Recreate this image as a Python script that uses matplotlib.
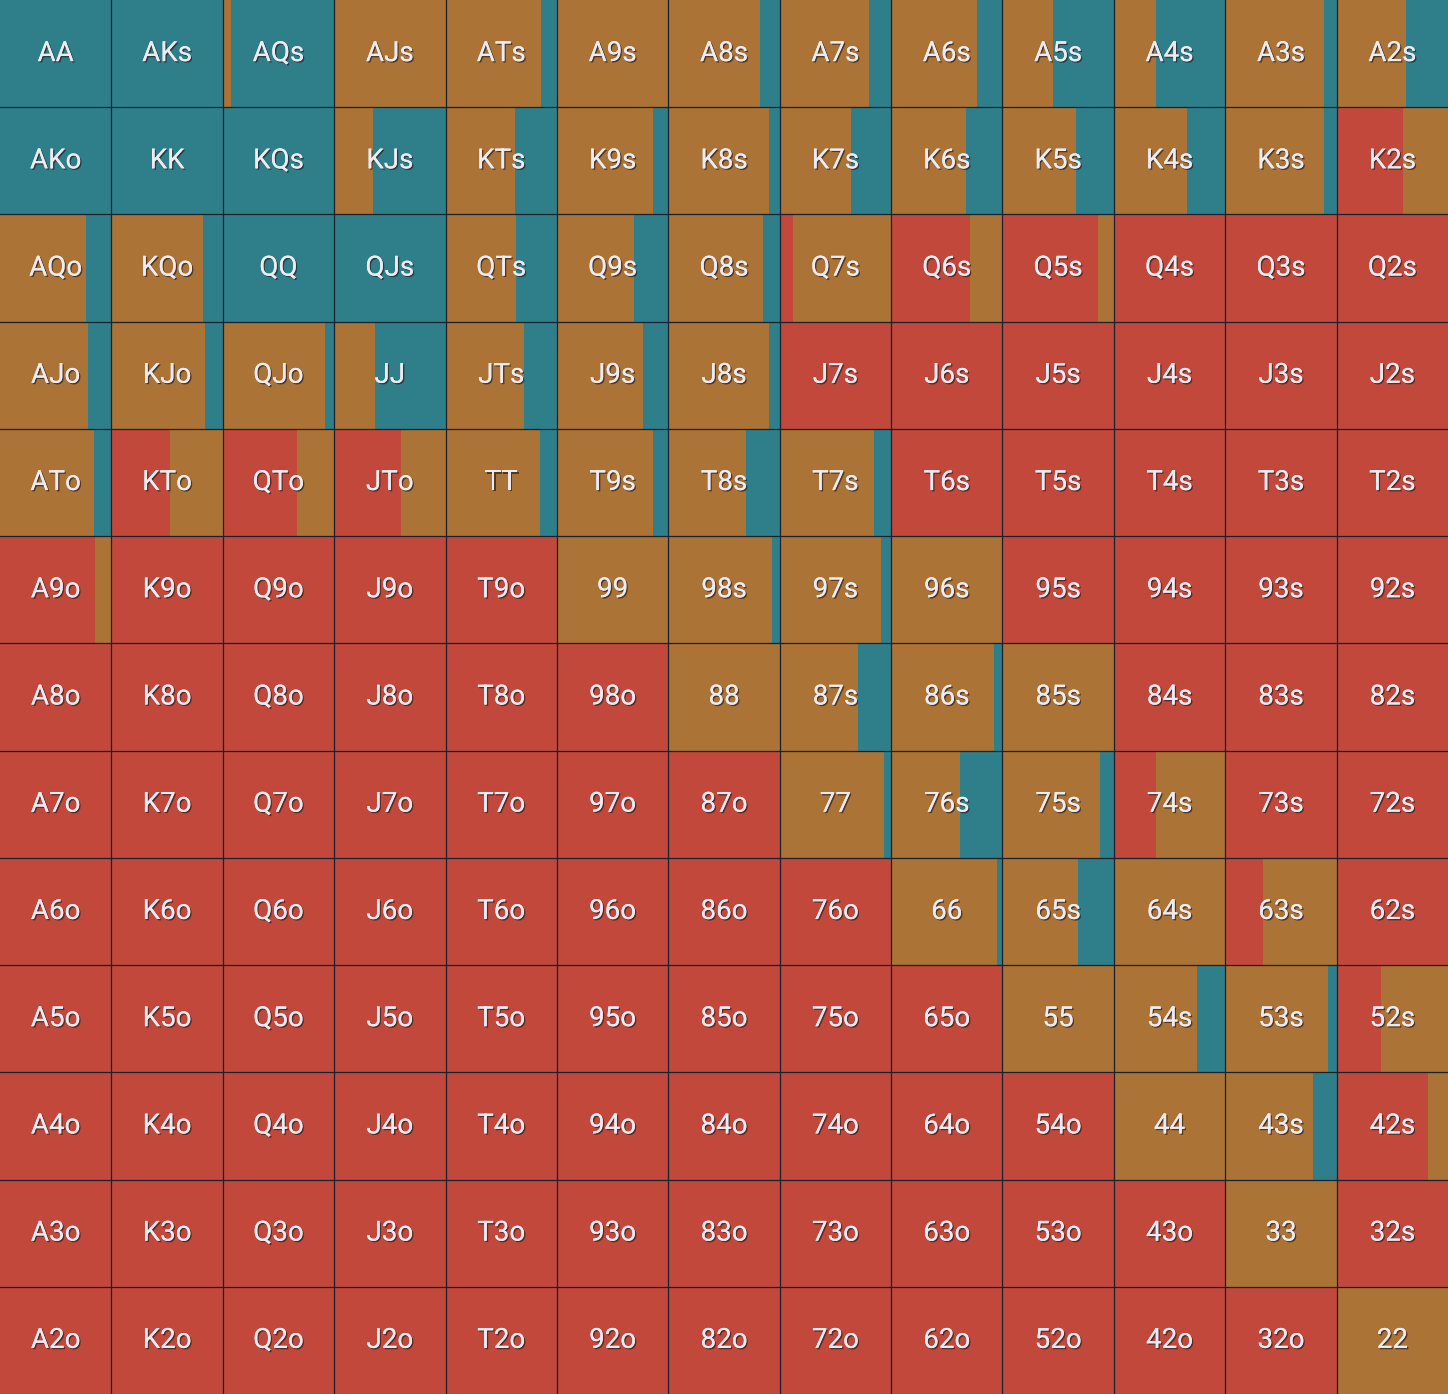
import matplotlib
matplotlib.use("Agg")
import matplotlib.pyplot as plt
import matplotlib.patheffects as pe

ranks = ["A", "K", "Q", "J", "T", "9", "8", "7", "6", "5", "4", "3", "2"]

# fold (red) fractions per cell, row by row
fold = [
    [0, 0, 0, 0, 0, 0, 0, 0, 0, 0, 0, 0, 0],
    [0, 0, 0, 0, 0, 0, 0, 0, 0, 0, 0, 0, 0.60],
    [0, 0, 0, 0, 0, 0, 0, 0.12, 0.71, 0.86, 1, 1, 1],
    [0, 0, 0, 0, 0, 0, 0, 1, 1, 1, 1, 1, 1],
    [0, 0.53, 0.67, 0.60, 0, 0, 0, 0, 1, 1, 1, 1, 1],
    [0.85, 1, 1, 1, 1, 0, 0, 0, 0, 1, 1, 1, 1],
    [1, 1, 1, 1, 1, 1, 0, 0, 0, 0, 1, 1, 1],
    [1, 1, 1, 1, 1, 1, 1, 0, 0, 0, 0.38, 1, 1],
    [1, 1, 1, 1, 1, 1, 1, 1, 0, 0, 0, 0.34, 1],
    [1, 1, 1, 1, 1, 1, 1, 1, 1, 0, 0, 0, 0.40],
    [1, 1, 1, 1, 1, 1, 1, 1, 1, 1, 0, 0, 0.82],
    [1, 1, 1, 1, 1, 1, 1, 1, 1, 1, 1, 0, 1],
    [1, 1, 1, 1, 1, 1, 1, 1, 1, 1, 1, 1, 0],
]

# raise (teal) fractions per cell; call (brown) is the remainder
raise_ = [
    [1, 1, 0.93, 0, 0.14, 0, 0.18, 0.20, 0.23, 0.55, 0.62, 0.11, 0.38],
    [1, 1, 1, 0.65, 0.38, 0.14, 0.10, 0.36, 0.33, 0.34, 0.34, 0.11, 0],
    [0.23, 0.18, 1, 1, 0.37, 0.31, 0.15, 0, 0, 0, 0, 0, 0],
    [0.21, 0.16, 0.08, 0.63, 0.30, 0.23, 0.10, 0, 0, 0, 0, 0, 0],
    [0.16, 0, 0, 0, 0.15, 0.14, 0.30, 0.15, 0, 0, 0, 0, 0],
    [0, 0, 0, 0, 0, 0, 0.07, 0.09, 0, 0, 0, 0, 0],
    [0, 0, 0, 0, 0, 0, 0, 0.30, 0.08, 0, 0, 0, 0],
    [0, 0, 0, 0, 0, 0, 0, 0.06, 0.38, 0.12, 0, 0, 0],
    [0, 0, 0, 0, 0, 0, 0, 0, 0.05, 0.32, 0, 0, 0],
    [0, 0, 0, 0, 0, 0, 0, 0, 0, 0, 0.25, 0.08, 0],
    [0, 0, 0, 0, 0, 0, 0, 0, 0, 0, 0, 0.21, 0],
    [0, 0, 0, 0, 0, 0, 0, 0, 0, 0, 0, 0, 0],
    [0, 0, 0, 0, 0, 0, 0, 0, 0, 0, 0, 0, 0],
]

RED = "#c2483c"
BROWN = "#ab7335"
TEAL = "#2e7f8a"
BORDER = "#18222e"

fig = plt.figure(figsize=(14.48, 13.94), dpi=100)
ax = fig.add_axes([0, 0, 1, 1])
ax.set_xlim(0, 13)
ax.set_ylim(13, 0)
ax.axis("off")

n = len(ranks)
for i in range(n):
    for j in range(n):
        f = fold[i][j]
        r = raise_[i][j]
        c = max(0.0, 1 - f - r)
        left = j
        for frac, col in ((f, RED), (c, BROWN), (r, TEAL)):
            if frac > 0:
                ax.barh(i + 0.5, frac, left=left, height=1.0, color=col,
                        linewidth=0, align="center")
                left += frac
        if i == j:
            label = ranks[i] + ranks[j]
        elif j > i:
            label = ranks[i] + ranks[j] + "s"
        else:
            label = ranks[j] + ranks[i] + "o"
        ax.text(j + 0.5, i + 0.5, label, ha="center", va="center",
                fontsize=20, color="#ecebf2", family="Roboto",
                path_effects=[pe.withSimplePatchShadow(offset=(1.0, -1.0),
                                                       shadow_rgbFace="#2a2020",
                                                       alpha=0.7),
                              pe.Normal()])

for k in range(1, n):
    ax.axhline(k, color=BORDER, linewidth=0.9)
    ax.axvline(k, color=BORDER, linewidth=0.9)

fig.savefig("out.png", dpi=100)
